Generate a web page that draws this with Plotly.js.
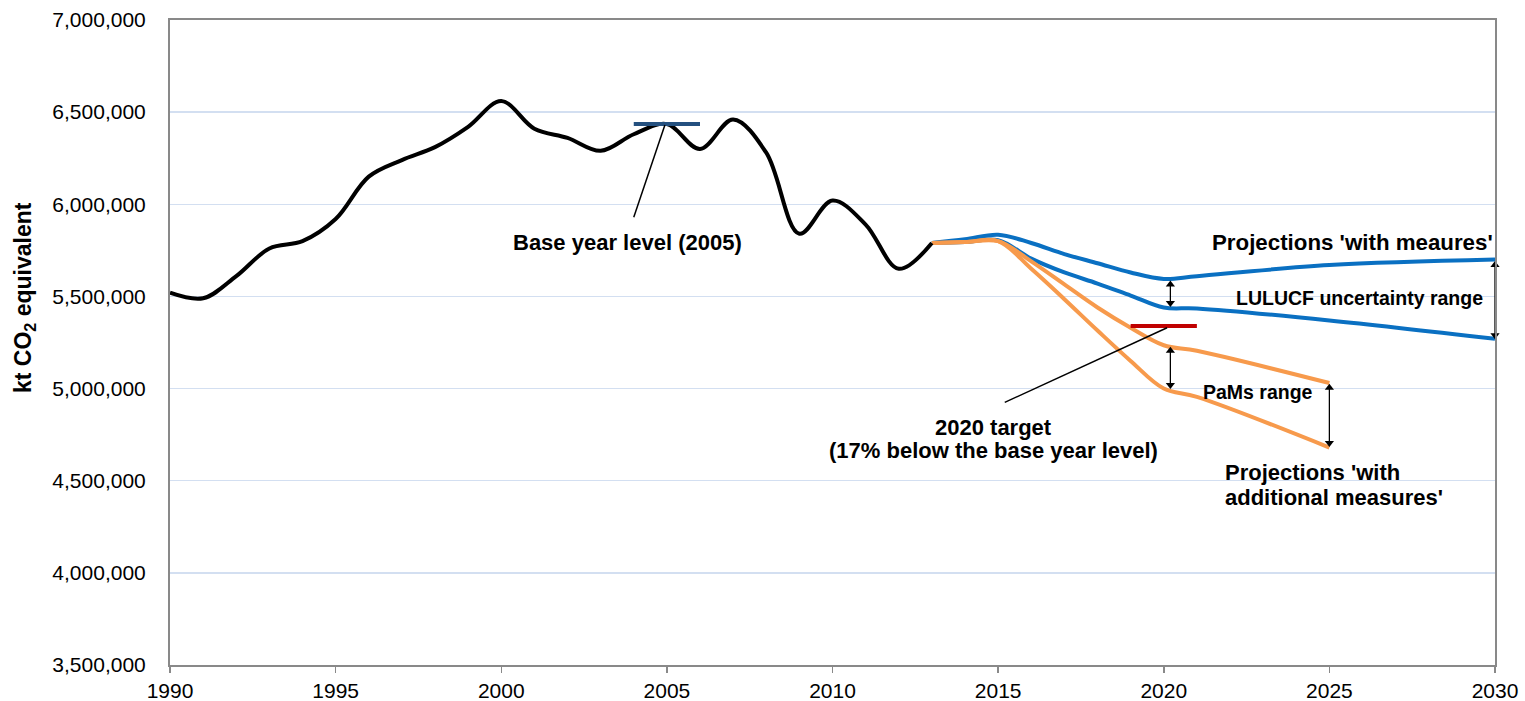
<!DOCTYPE html>
<html>
<head>
<meta charset="utf-8">
<script src="https://cdn.plot.ly/plotly-3.0.1.min.js"></script>
<style>html,body{margin:0;padding:0;background:#fff;}#chart{width:1525px;height:701px;}</style>
</head>
<body>
<div id="chart"></div>
<script>
// Historical emissions (kt CO2 eq.)
const histYears = [1990,1991,1992,1993,1994,1995,1996,1997,1998,1999,2000,2001,2002,2003,2004,2005,2006,2007,2008,2009,2010,2011,2012,2013];
const histValues = [5520000,5490000,5610000,5760000,5800000,5920000,6150000,6240000,6310000,6420000,6560000,6410000,6360000,6290000,6380000,6435000,6300000,6460000,6280000,5840000,6020000,5890000,5650000,5790000];

// Projections 'with measures' (LULUCF uncertainty range)
const wmYears = [2013,2014,2015,2016,2017,2018,2019,2020,2021,2025,2030];
const wmHigh = [5790000,5810000,5835000,5790000,5730000,5680000,5630000,5595000,5610000,5670000,5700000];
const wmLow  = [5790000,5795000,5805000,5705000,5630000,5570000,5505000,5440000,5435000,5370000,5270000];

// Projections 'with additional measures' (PaMs range)
const wamYears = [2013,2014,2015,2016,2017,2018,2019,2020,2021,2025];
const wamHigh = [5790000,5795000,5800000,5690000,5565000,5440000,5330000,5235000,5205000,5030000];
const wamLow  = [5790000,5795000,5800000,5650000,5485000,5315000,5150000,5000000,4955000,4680000];

// Base year level and 2020 target
const baseYears = [2004,2006];
const baseLevel = 6435000;
const targetYears = [2019,2021];
const targetLevel = 5340000;

// Range arrows (year, upper end, lower end)
const arrowYears = [2020.2, 2020.2, 2025.0, 2030.0];
const arrowTop    = [5565000, 5205000, 5005000, 5670000];
const arrowBottom = [5465000, 5020000, 4705000, 5290000];

const xTicks = [1990,1995,2000,2005,2010,2015,2020,2025,2030];

const FONT = 'Liberation Sans, Arial, sans-serif';
const BLUE = '#0a70c2';
const ORANGE = '#f79a4c';

const traces = [
  {x: wmYears, y: wmHigh, mode:'lines', line:{color:BLUE, width:4, shape:'spline'}},
  {x: wmYears, y: wmLow, mode:'lines', line:{color:BLUE, width:4, shape:'spline'}},
  {x: wamYears, y: wamHigh, mode:'lines', line:{color:ORANGE, width:4, shape:'spline'}},
  {x: wamYears, y: wamLow, mode:'lines', line:{color:ORANGE, width:4, shape:'spline'}},
  {x: histYears, y: histValues, mode:'lines', line:{color:'#000000', width:4, shape:'spline'}},
  {x: baseYears, y: baseYears.map(()=>baseLevel), mode:'lines', line:{color:'#24507f', width:4}},
  {x: targetYears, y: targetYears.map(()=>targetLevel), mode:'lines', line:{color:'#c00000', width:4}}
];
arrowYears.forEach((yr, i) => {
  traces.push({x:[yr, yr], y:[arrowTop[i], arrowBottom[i]], mode:'lines+markers', cliponaxis:false,
    line:{color:'#000', width:1.3},
    marker:{symbol:['triangle-up','triangle-down'], size:8, color:'#000', line:{width:0}}});
});

function txt(x, y, text, size, opts) {
  return Object.assign({x:x, y:y, xref:'x', yref:'y', text:text, showarrow:false,
    font:{family:FONT, size:size, color:'#000', weight:'bold'}}, opts||{});
}

const annotations = [
  txt(2003.8, 5790000, 'Base year level (2005)', 22),
  txt(2014.85, 4790000, '2020 target', 22),
  txt(2014.85, 4665000, '(17% below the base year level)', 22),
  txt(2025.7, 5790000, "Projections 'with meaures'", 22.3),
  txt(2025.9, 5490000, 'LULUCF uncertainty range', 19.5),
  txt(2022.85, 4980000, 'PaMs range', 19.5),
  txt(2021.8, 4545000, "Projections 'with", 22, {xanchor:'left'}),
  txt(2021.8, 4410000, "additional measures'", 22, {xanchor:'left'}),
  {xref:'paper', yref:'paper', x:-0.1094, y:0.569, xanchor:'center', yanchor:'middle',
    text:'kt CO<sub>2</sub> equivalent', textangle:-90,
    showarrow:false, font:{family:FONT, size:23, color:'#000', weight:'bold'}}
];

const shapes = [
  {type:'line', xref:'x', yref:'y', x0:2004.0, y0:5930000, x1:2004.94, y1:6430000, line:{color:'#000', width:1.5}},
  {type:'line', xref:'x', yref:'y', x0:2015.2, y0:4925000, x1:2020.1, y1:5330000, line:{color:'#000', width:1.5}}
];

const layout = {
  width:1525, height:701,
  margin:{l:170, r:30, t:20, b:36, pad:0},
  paper_bgcolor:'#fff', plot_bgcolor:'#fff',
  showlegend:false,
  font:{family:FONT, size:21, color:'#000'},
  xaxis:{range:[1990,2030], tickvals:xTicks, ticktext:xTicks.map(String),
    ticks:'outside', ticklen:6, tickwidth:1.5, tickcolor:'#898989',
    showgrid:false, zeroline:false, showline:true, mirror:true, linecolor:'#898989', linewidth:2,
    tickfont:{family:FONT, size:21, color:'#000'}},
  yaxis:{range:[3500000,7000000], dtick:500000, tickformat:',d',
    showgrid:true, gridcolor:'#d3dff1', gridwidth:1.5, zeroline:false,
    showline:true, mirror:true, linecolor:'#898989', linewidth:2, ticks:'',
    ticklabelstandoff:18, tickfont:{family:FONT, size:21, color:'#000'}},
  annotations:annotations,
  shapes:shapes
};

Plotly.newPlot('chart', traces, layout, {displayModeBar:false, staticPlot:true});
</script>
</body>
</html>
